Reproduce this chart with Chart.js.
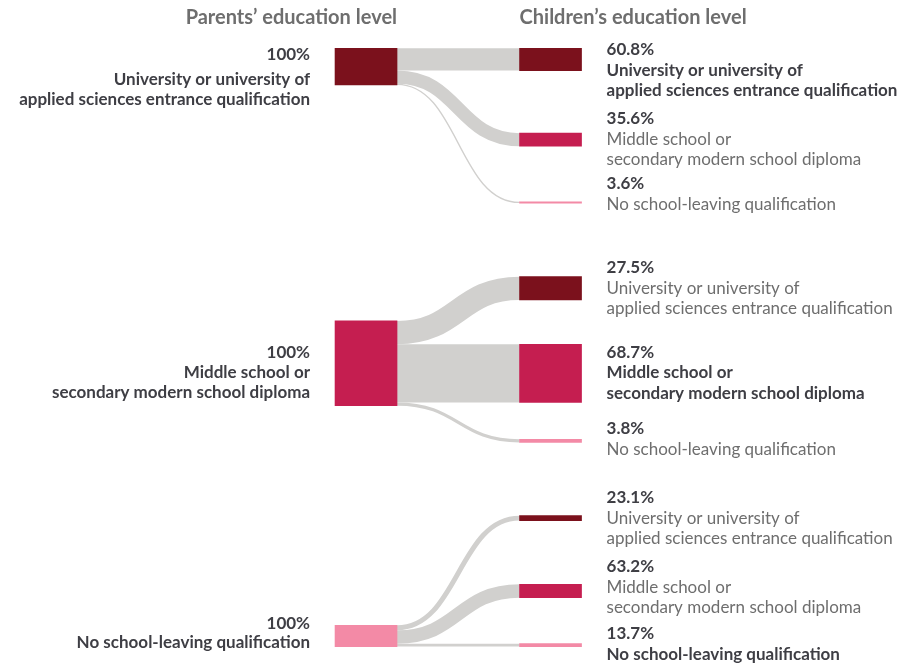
<!DOCTYPE html>
<html>
<head>
<meta charset="utf-8">
<title>Parents' and children's education level</title>
<script src="https://cdn.jsdelivr.net/npm/chart.js@4.4.1/dist/chart.umd.min.js"></script>
<style>
  html, body { margin: 0; padding: 0; background: #ffffff; }
  #wrap { width: 904px; height: 663px; position: relative; }
</style>
</head>
<body>
<div id="wrap"><canvas id="chart"></canvas></div>
<script>
// Education levels, used for both generations (label lines per level)
const levels = [
  ['University or university of', 'applied sciences entrance qualification'],
  ['Middle school or', 'secondary modern school diploma'],
  ['No school-leaving qualification']
];
const levelColors = ['#7b111c', '#c51e50', '#f38aa6'];

// Share of each parents' group in the sample (drives node heights)
const parentShares = [25.7, 59.4, 14.9];

// Children's education level by parents' education level, in %
const fromUniversity = [60.8, 35.6, 3.6];
const fromMiddleSchool = [27.5, 68.7, 3.8];
const fromNoQualification = [23.1, 63.2, 13.7];
const transitions = [fromUniversity, fromMiddleSchool, fromNoQualification];

const headers = ['Parents\u2019 education level', 'Children\u2019s education level'];

// ---- layout (vertical unit = one share point, horizontal = % of width) ----
const Y_MAX = 465;
const X_PARENT = 40.49;
const X_CHILD = 60.9;
const NODE_WIDTH = 62;
const LABEL_GAP = 25;
const LINE_HEIGHT = 20.5;
const HEADER_BASELINE = 16.8;
const parentTop = [33.88, 225.1, 438.6];
// centre of each child node; null = the node continues its band straight across
const childCentre = [
  [null, 97.98, 142.0],
  [202.2, null, 309.2],
  [363.4, 414.5, null]
];
// parents' labels: baseline of the "100%" line and of the first name line
const parentPctBaseline = [42.1, 250.9, 441.2];
const parentNameBaseline = [59.6, 264.8, 454.5];
const childLabelBaseline = [
  [38.6, 87.0, 132.8],
  [191.7, 250.9, 304.4],
  [352.8, 401.2, 448.2]
];

const FLOW_COLOR = '#d1d0ce';
const DARK = '#3e3e44';
const GREY = '#6e6e6e';
const FONT = 'Lato, "Open Sans", sans-serif';
const TEXT_SIZE = 17;
const HEADER_SIZE = 20;

// bands leaving each parent node and the child nodes they end in
const bands = [];
const parentNodes = [];
const childNodes = [];
const childColors = [];
transitions.forEach((row, g) => {
  const top = parentTop[g];
  parentNodes.push({ x: X_PARENT, y: [top, top + parentShares[g]] });
  let cum = top;
  row.forEach((pct, k) => {
    const w = parentShares[g] * pct / 100;
    const band = [cum, cum + w];
    cum += w;
    const c = childCentre[g][k];
    const node = c === null ? band.slice() : [c - w / 2, c + w / 2];
    bands.push({ g, k, from: band, to: node });
    childNodes.push({ x: X_CHILD, y: node });
    childColors.push(levelColors[k]);
  });
});

const flowPlugin = {
  id: 'flows',
  beforeDatasetsDraw(chart) {
    const ctx = chart.ctx;
    const ys = chart.scales.y;
    const pMeta = chart.getDatasetMeta(0);
    const cMeta = chart.getDatasetMeta(1);
    ctx.save();
    ctx.strokeStyle = FLOW_COLOR;
    ctx.lineCap = 'butt';
    bands.forEach((b, i) => {
      const p = pMeta.data[b.g].getProps(['x', 'width'], true);
      const c = cMeta.data[i].getProps(['x', 'width'], true);
      const x0 = p.x + p.width / 2;
      const x1 = c.x - c.width / 2;
      const y0 = ys.getPixelForValue((b.from[0] + b.from[1]) / 2);
      const y1 = ys.getPixelForValue((b.to[0] + b.to[1]) / 2);
      const lw = Math.abs(ys.getPixelForValue(b.from[1]) - ys.getPixelForValue(b.from[0]));
      const xm = (x0 + x1) / 2;
      ctx.lineWidth = lw;
      ctx.beginPath();
      ctx.moveTo(x0, y0);
      ctx.bezierCurveTo(xm, y0, xm, y1, x1, y1);
      ctx.stroke();
    });
    ctx.restore();
  }
};

const labelPlugin = {
  id: 'nodeLabels',
  afterDatasetsDraw(chart) {
    const ctx = chart.ctx;
    const ys = chart.scales.y;
    const pMeta = chart.getDatasetMeta(0);
    const cMeta = chart.getDatasetMeta(1);
    const bold = 'bold ' + TEXT_SIZE + 'px ' + FONT;
    const regular = TEXT_SIZE + 'px ' + FONT;
    ctx.save();
    ctx.textBaseline = 'alphabetic';

    // column headers
    const p0 = pMeta.data[0].getProps(['x', 'width'], true);
    const c0 = cMeta.data[0].getProps(['x', 'width'], true);
    ctx.font = 'bold ' + HEADER_SIZE + 'px ' + FONT;
    ctx.fillStyle = GREY;
    ctx.textAlign = 'right';
    ctx.fillText(headers[0], p0.x + p0.width / 2, ys.getPixelForValue(HEADER_BASELINE));
    ctx.textAlign = 'left';
    ctx.fillText(headers[1], c0.x - c0.width / 2, ys.getPixelForValue(HEADER_BASELINE));

    // parents' labels
    ctx.textAlign = 'right';
    ctx.fillStyle = DARK;
    ctx.font = bold;
    levels.forEach((lines, g) => {
      const p = pMeta.data[g].getProps(['x', 'width'], true);
      const x = p.x - p.width / 2 - LABEL_GAP;
      const total = transitions[g].reduce((a, v) => a + v, 0);
      ctx.fillText(Math.round(total) + '%', x, ys.getPixelForValue(parentPctBaseline[g]));
      const y = ys.getPixelForValue(parentNameBaseline[g]);
      lines.forEach((t, j) => ctx.fillText(t, x, y + LINE_HEIGHT * j));
    });

    // children's labels
    ctx.textAlign = 'left';
    bands.forEach((b, i) => {
      const c = cMeta.data[i].getProps(['x', 'width'], true);
      const x = c.x + c.width / 2 + LABEL_GAP;
      const y = ys.getPixelForValue(childLabelBaseline[b.g][b.k]);
      ctx.font = bold;
      ctx.fillStyle = DARK;
      ctx.fillText(transitions[b.g][b.k].toFixed(1) + '%', x, y);
      const same = b.g === b.k;
      ctx.font = same ? bold : regular;
      ctx.fillStyle = same ? DARK : GREY;
      levels[b.k].forEach((t, j) => ctx.fillText(t, x, y + LINE_HEIGHT * (j + 1)));
    });
    ctx.restore();
  }
};

new Chart(document.getElementById('chart'), {
  type: 'bar',
  data: {
    datasets: [
      { label: 'Parents', data: parentNodes, backgroundColor: levelColors },
      { label: 'Children', data: childNodes, backgroundColor: childColors }
    ]
  },
  options: {
    responsive: true,
    maintainAspectRatio: false,
    animation: false,
    events: [],
    layout: { padding: 0 },
    datasets: { bar: { grouped: false, barThickness: NODE_WIDTH, borderWidth: 0 } },
    plugins: { legend: { display: false }, tooltip: { enabled: false } },
    scales: {
      x: { type: 'linear', min: 0, max: 100, offset: false, display: false },
      y: { type: 'linear', min: 0, max: Y_MAX, reverse: true, display: false }
    }
  },
  plugins: [flowPlugin, labelPlugin]
});
</script>
</body>
</html>
